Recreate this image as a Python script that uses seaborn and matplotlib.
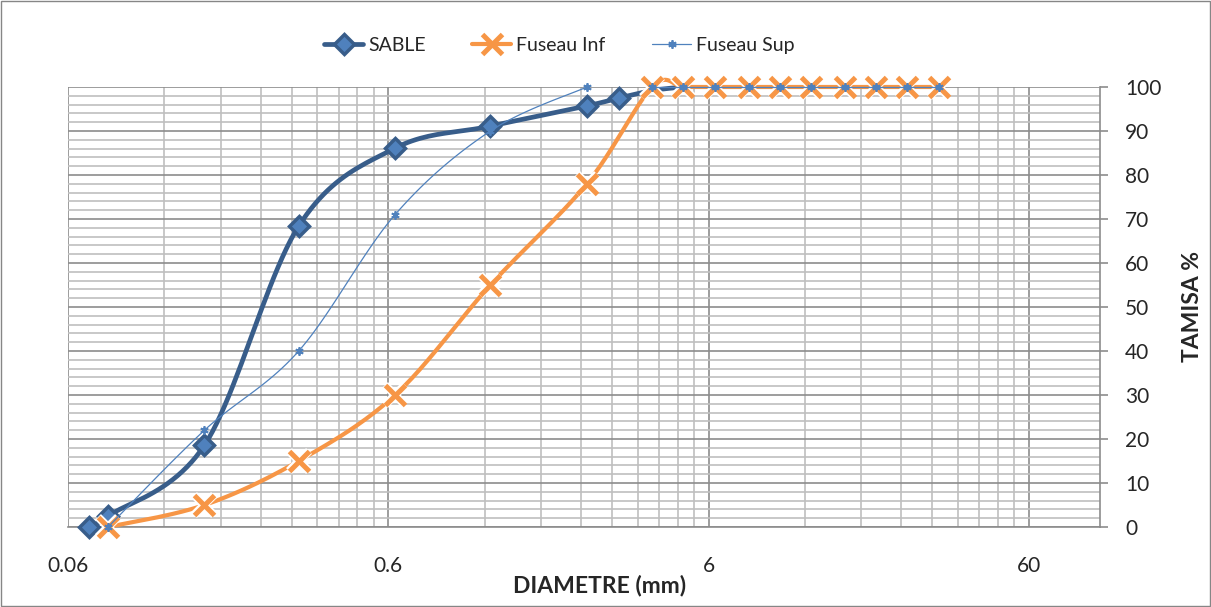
import numpy as np
import pandas as pd
import seaborn as sns
import matplotlib.pyplot as plt
from matplotlib.lines import Line2D
from matplotlib.patches import Rectangle
from matplotlib.ticker import FixedLocator, NullFormatter

# Données (diamètre en mm, tamisat en %)
sable_d = [0.07, 0.08, 0.16, 0.315, 0.63, 1.25, 2.5, 3.15, 4, 5]
sable_t = [0, 2.5, 18.6, 68.4, 86.1, 91.1, 95.7, 97.5, 99.2, 100]

inf_d = [0.08, 0.16, 0.315, 0.63, 1.25, 2.5, 4, 5, 6.3, 8, 10, 12.5, 16, 20, 25, 31.5]
inf_t = [0, 5, 15, 30, 55, 78, 100, 100, 100, 100, 100, 100, 100, 100, 100, 100]

# cellule vide à 3.15 -> coupure de la courbe
sup_d = [0.08, 0.16, 0.315, 0.63, 1.25, 2.5, 3.15, 4, 5, 6.3, 8, 10, 12.5, 16, 20, 25, 31.5]
sup_t = [0, 22, 40, 71, 90, 100, np.nan, 100, 100, 100, 100, 100, 100, 100, 100, 100, 100]

x_ticks = [0.06, 0.6, 6, 60]
x_ticklabels = ["0.06", "0.6", "6", "60"]


def lissage(xs, ys, n=24):
    # courbe lissée type Excel (Catmull-Rom) dans l'espace (log x, y), coupée sur les NaN
    xs = np.asarray(xs, float)
    ys = np.asarray(ys, float)
    morceaux = []
    ok = ~np.isnan(ys)
    debut = 0
    for j in range(len(ys) + 1):
        if j == len(ys) or not ok[j]:
            if j - debut >= 2:
                morceaux.append((xs[debut:j], ys[debut:j]))
            debut = j + 1
    frames = []
    for k, (mx, my) in enumerate(morceaux):
        p = np.column_stack([np.log10(mx), my])
        p = np.vstack([p[0], p, p[-1]])
        out = []
        for i in range(1, len(p) - 2):
            p0, p1, p2, p3 = p[i - 1], p[i], p[i + 1], p[i + 2]
            c1 = p1 + (p2 - p0) / 6
            c2 = p2 - (p3 - p1) / 6
            t = np.linspace(0, 1, n)[:, None]
            seg = ((1 - t) ** 3) * p1 + 3 * ((1 - t) ** 2) * t * c1 + 3 * (1 - t) * t ** 2 * c2 + t ** 3 * p2
            out.append(seg if i == 1 else seg[1:])
        out = np.vstack(out)
        frames.append(pd.DataFrame({"d": 10 ** out[:, 0], "t": out[:, 1], "m": k}))
    return pd.concat(frames, ignore_index=True)


sns.set_style("white")
plt.rcParams["font.family"] = ["Lato", "DejaVu Sans"]

c_sable = "#385D8A"
c_sable_f = "#4F81BD"
c_inf = "#F79646"
c_sup = "#4F81BD"

fig = plt.figure(figsize=(12.11, 6.07), dpi=100)
ax = fig.add_axes([0.0562, 0.1318, 0.8521, 0.7249])

# SABLE
sns.lineplot(data=lissage(sable_d, sable_t), x="d", y="t", sort=False, estimator=None,
             color=c_sable, linewidth=3.4, ax=ax, zorder=3, clip_on=False)
ax.plot(sable_d, sable_t, ls="none", marker="D", ms=10, mfc=c_sable_f, mec=c_sable, mew=2.5,
        markevery=slice(0, 8), zorder=3.5, clip_on=False)

# Fuseau Inf
sns.lineplot(data=lissage(inf_d, inf_t), x="d", y="t", sort=False, estimator=None,
             color=c_inf, linewidth=3.0, ax=ax, zorder=4, clip_on=False)
ax.plot(inf_d, inf_t, ls="none", marker="x", ms=15, mec="white", mew=6, zorder=4.5, clip_on=False)
ax.plot(inf_d, inf_t, ls="none", marker="x", ms=14, mec=c_inf, mew=3.6, zorder=5, clip_on=False)

# Fuseau Sup
sns.lineplot(data=lissage(sup_d, sup_t), x="d", y="t", units="m", sort=False, estimator=None,
             color=c_sup, linewidth=0.9, ax=ax, zorder=6, clip_on=False)
ax.plot(sup_d, sup_t, ls="none", marker=(6, 2, 0), ms=6, mec=c_sup, mew=1.3, zorder=6.5, clip_on=False)

ax.set_xscale("log")
ax.set_xlim(0.06, 100)
ax.set_ylim(0, 100)

minor = [0.06 * k * 10 ** e for e in range(4) for k in range(2, 10) if 0.06 * k * 10 ** e < 100]
ax.xaxis.set_major_locator(FixedLocator(x_ticks))
ax.set_xticklabels(x_ticklabels)
ax.xaxis.set_minor_locator(FixedLocator(minor))
ax.xaxis.set_minor_formatter(NullFormatter())
ax.set_yticks(range(0, 101, 10))
ax.yaxis.set_minor_locator(FixedLocator(range(0, 101, 2)))

ax.grid(True, which="major", color="#8C8C8C", linewidth=1.2, zorder=0)
ax.grid(True, which="minor", color="#BFBFBF", linewidth=1.2, zorder=0)
ax.set_axisbelow(True)

for s in ["top", "left"]:
    ax.spines[s].set_visible(False)
for s in ["right", "bottom"]:
    ax.spines[s].set_color("#8C8C8C")
    ax.spines[s].set_linewidth(1.2)

ax.yaxis.tick_right()
ax.yaxis.set_label_position("right")
ax.tick_params(axis="y", which="major", direction="out", length=6, width=1.2, color="#8C8C8C",
               labelsize=15, pad=12, right=True, left=False)
ax.tick_params(axis="y", which="minor", length=0)
ax.tick_params(axis="x", which="major", direction="out", length=5, width=1.2, color="#8C8C8C",
               labelsize=15, pad=16)
ax.tick_params(axis="x", which="minor", length=0)

ax.set_xlabel("DIAMETRE (mm)", fontsize=16.5, fontweight="bold", va="center")
ax.xaxis.set_label_coords(0.515, -0.132)
ax.set_ylabel("TAMISA %", fontsize=16.5, fontweight="bold", labelpad=15)

handles = [
    Line2D([], [], color=c_sable, lw=3.4, marker="D", ms=10, mfc=c_sable_f, mec=c_sable, mew=2.5),
    Line2D([], [], color=c_inf, lw=3.0, marker="x", ms=14, mec=c_inf, mew=3.6),
    Line2D([], [], color=c_sup, lw=0.9, marker=(6, 2, 0), ms=6, mec=c_sup, mew=1.3),
]
fig.legend(handles, ["SABLE", "Fuseau Inf", "Fuseau Sup"], loc="center", bbox_to_anchor=(0.462, 0.925),
           ncol=3, frameon=False, fontsize=14, handlelength=2.0, handletextpad=0.25, columnspacing=2.4)

fig.patches.append(Rectangle((0.001, 0.001), 0.998, 0.997, transform=fig.transFigure,
                             fill=False, edgecolor="#868686", linewidth=1))

fig.savefig("out.png", dpi=100)
